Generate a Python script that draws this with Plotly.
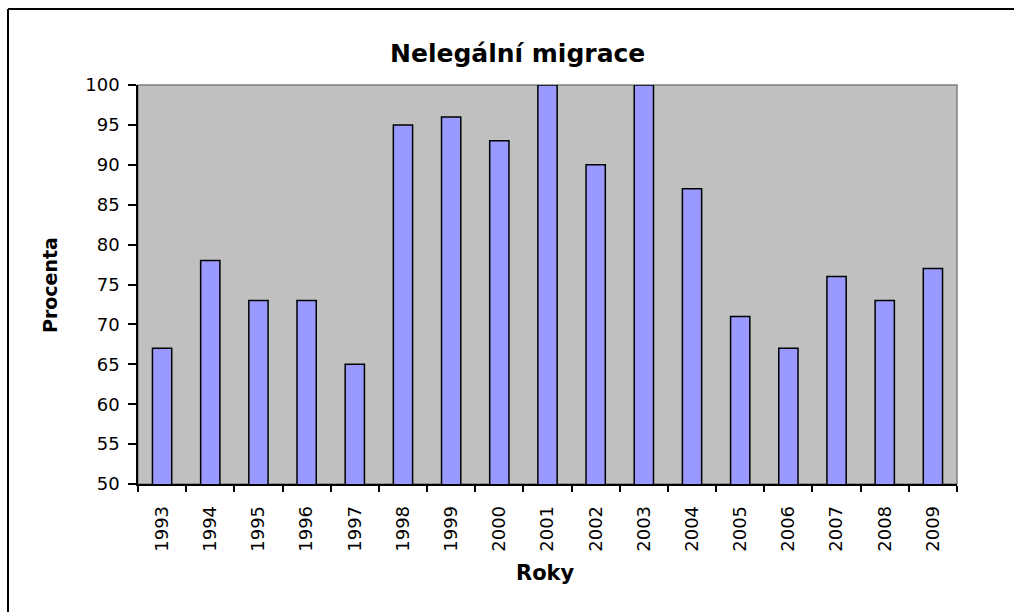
import plotly.graph_objects as go

# Data
years = ["1993", "1994", "1995", "1996", "1997", "1998", "1999", "2000", "2001",
         "2002", "2003", "2004", "2005", "2006", "2007", "2008", "2009"]
percent = [67, 78, 73, 73, 65, 95, 96, 93, 100, 90, 100, 87, 71, 67, 76, 73, 77]
y_ticks = [50, 55, 60, 65, 70, 75, 80, 85, 90, 95, 100]

_BAR_COLOR = "#9999ff"
_PLOT_BG = "#c0c0c0"
_FONT = "DejaVu Sans"

W, H = 1014, 612
# plot area in pixels (left, top, right, bottom)
L, T, R, B = 138, 85, 957, 484
pw, ph = R - L, B - T


def px(x):
    return (x - L) / pw


def py(y):
    return (B - y) / ph


fig = go.Figure(
    go.Bar(
        x=years,
        y=percent,
        marker={"color": _BAR_COLOR, "line": {"color": "black", "width": 1.5}},
    )
)

fig.update_layout(
    width=W,
    height=H,
    margin={"l": L, "r": W - R, "t": T, "b": H - B},
    paper_bgcolor="white",
    plot_bgcolor=_PLOT_BG,
    showlegend=False,
    bargap=0.6,
    font={"family": _FONT, "size": 18, "color": "black"},
)

fig.update_xaxes(
    type="category",
    tickangle=-90,
    tickson="boundaries",
    ticks="outside",
    ticklen=6,
    tickcolor="black",
    tickwidth=1.5,
    showline=True,
    linecolor="black",
    linewidth=1.5,
    showgrid=False,
    tickfont={"size": 18},
    ticklabelstandoff=13,
)
fig.update_yaxes(
    range=[50, 100],
    tickvals=y_ticks,
    ticks="outside",
    ticklen=8,
    tickcolor="black",
    tickwidth=1.5,
    showline=True,
    linecolor="black",
    linewidth=1.5,
    showgrid=False,
    zeroline=False,
    tickfont={"size": 18},
    ticklabelstandoff=5,
)

# gray frame of the plot area (top and right edges)
fig.add_shape(type="rect", xref="paper", yref="paper", x0=0, x1=1, y0=0, y1=1,
              line={"color": "#808080", "width": 1.5}, layer="below")
# outer chart border: only the left and top edges are inside the window
border = {"color": "black", "width": 2}
fig.add_shape(type="line", xref="paper", yref="paper",
              x0=px(8), x1=px(8), y0=py(640), y1=py(9), line=border)
fig.add_shape(type="line", xref="paper", yref="paper",
              x0=px(8), x1=px(1040), y0=py(9), y1=py(9), line=border)

fig.add_annotation(text="<b>Nelegální migrace</b>", xref="paper", yref="paper",
                   x=px(517), y=py(53), xanchor="center", yanchor="middle",
                   showarrow=False, font={"size": 25, "family": _FONT})
fig.add_annotation(text="<b>Roky</b>", xref="paper", yref="paper",
                   x=px(545), y=py(573), xanchor="center", yanchor="middle",
                   showarrow=False, font={"size": 21, "family": _FONT})
fig.add_annotation(text="<b>Procenta</b>", xref="paper", yref="paper",
                   x=px(50), y=py(285), xanchor="center", yanchor="middle",
                   showarrow=False, textangle=-90,
                   font={"size": 19, "family": _FONT})

fig.write_html(
    "out.html",
    config={"displayModeBar": False},
    post_script="document.body.style.margin='0';document.body.style.overflow='hidden';",
)
